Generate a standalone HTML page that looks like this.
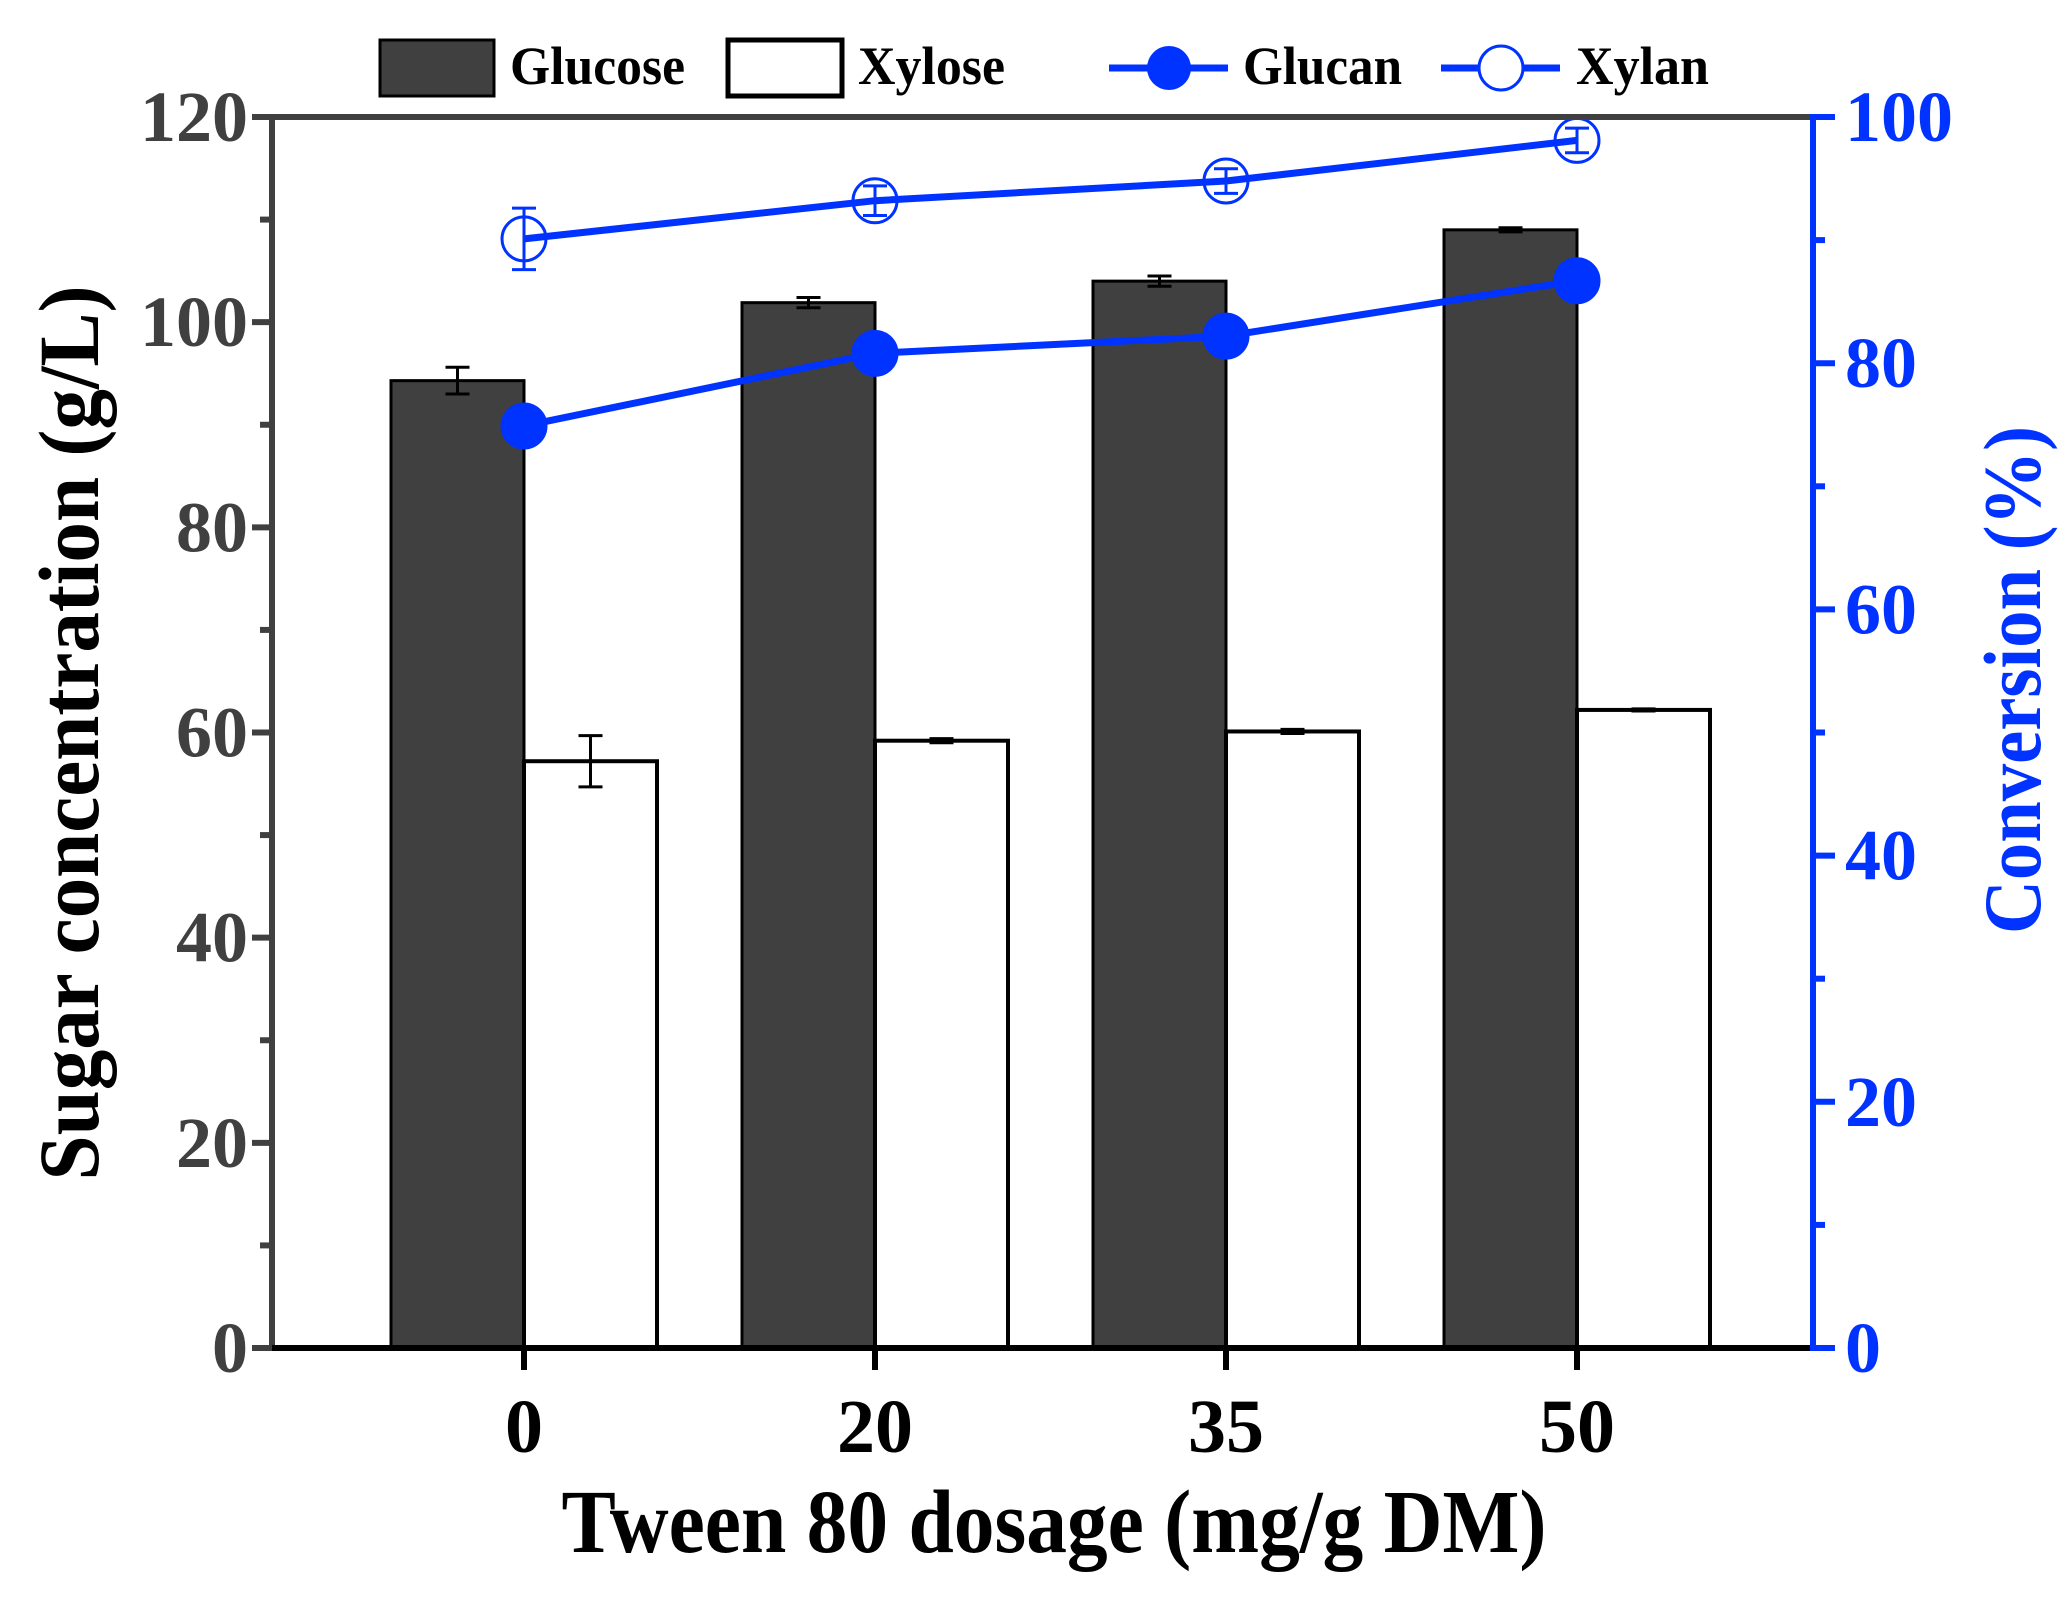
<!DOCTYPE html>
<html><head><meta charset="utf-8"><style>
html,body{margin:0;padding:0;background:#fff;}
svg{display:block;font-family:"Liberation Serif",serif;font-weight:bold;}
</style></head><body>
<svg id="chart" width="2072" height="1607" viewBox="0 0 2072 1607" xmlns="http://www.w3.org/2000/svg">
<g id="plot"></g>
</svg>
<script>
const categories = ["0","20","35","50"];
const glucose = [94.3, 101.9, 104.0, 109.0];
const glucoseErr = [1.3, 0.5, 0.5, 0.2];
const xylose = [57.2, 59.2, 60.1, 62.2];
const xyloseErr = [2.5, 0.2, 0.2, 0.1];
const glucan = [74.9, 80.8, 82.2, 86.7];
const glucanErr = [0.3, 0.3, 0.3, 0.3];
const xylan = [90.1, 93.2, 94.8, 98.1];
const xylanErr = [2.5, 1.2, 1.0, 1.0];
const leftTicks = [0,20,40,60,80,100,120];
const rightTicks = [0,20,40,60,80,100];

const L=272,R=1813,T=117,B=1348;
const NS="http://www.w3.org/2000/svg";
const g=document.getElementById('plot');
function yL(v){return B-(v/120)*(B-T);}
function yR(v){return B-(v/100)*(B-T);}
function xC(i){return 524+i*351;}
const BW=133;
function mk(tag,attrs,parent){const e=document.createElementNS(NS,tag);for(const k in attrs)e.setAttribute(k,attrs[k]);(parent||g).appendChild(e);return e;}

categories.forEach((c,i)=>{
  const x=xC(i);
  let r=mk('rect',{x:x-BW,y:yL(glucose[i]),width:BW,height:B-yL(glucose[i]),fill:'#404040',stroke:'#000','stroke-width':3});
  
  
  r=mk('rect',{x:x,y:yL(xylose[i]),width:BW,height:B-yL(xylose[i]),fill:'#fff',stroke:'#000','stroke-width':4});
  
  
  [[x-BW/2,glucose[i],glucoseErr[i]],[x+BW/2,xylose[i],xyloseErr[i]]].forEach(([cx,v,e])=>{
    const p=mk('path',{d:`M${cx},${yL(v+e)}V${yL(v-e)}M${cx-12},${yL(v+e)}H${cx+12}M${cx-12},${yL(v-e)}H${cx+12}`,stroke:'#000','stroke-width':3,fill:'none'});
    
    
  });
});

function series(vals,errs,filled,name){
  const pts=vals.map((v,i)=>xC(i)+','+yR(v)).join(' ');
  const pl=mk('polyline',{points:pts,fill:'none',stroke:'#0033ff','stroke-width':7});
  
  
  vals.forEach((v,i)=>{
    const cx=xC(i),cy=yR(v),e=errs[i];
    const eb=mk('path',{d:`M${cx},${yR(v+e)}V${yR(v-e)}M${cx-12},${yR(v+e)}H${cx+12}M${cx-12},${yR(v-e)}H${cx+12}`,stroke:'#0033ff','stroke-width':3,fill:'none'});
    
    
    const c=mk('circle',{cx:cx,cy:cy,r:22,fill:filled?'#0033ff':'none',stroke:'#0033ff','stroke-width':3});
    
    
  });
}
series(xylan,xylanErr,false,'xylan');
series(glucan,glucanErr,true,'glucan');

let a=mk('line',{x1:L,y1:T,x2:R,y2:T,stroke:'#404040','stroke-width':6});

a=mk('line',{x1:L,y1:T-3,x2:L,y2:B,stroke:'#404040','stroke-width':6});

a=mk('line',{x1:L,y1:B,x2:R,y2:B,stroke:'#000','stroke-width':6});

a=mk('line',{x1:R,y1:T-3,x2:R,y2:B+3,stroke:'#0033ff','stroke-width':6});


for(let v=0;v<=120;v+=10){
  const major=v%20===0;
  const t=mk('line',{x1:L-(major?20:12),y1:yL(v),x2:L,y2:yL(v),stroke:'#404040','stroke-width':6});
  
}
leftTicks.forEach(v=>{
  const t=mk('text',{x:L-24,y:yL(v)+24,'text-anchor':'end','font-size':72,fill:'#404040'});
  t.textContent=v;
  
});
for(let v=0;v<=100;v+=10){
  const major=v%20===0;
  const t=mk('line',{x1:R,y1:yR(v),x2:R+(major?22:12),y2:yR(v),stroke:'#0033ff','stroke-width':6});
  
}
rightTicks.forEach(v=>{
  const t=mk('text',{x:R+32,y:yR(v)+24,'text-anchor':'start','font-size':72,fill:'#0033ff'});
  t.textContent=v;
  
});
categories.forEach((c,i)=>{
  const t=mk('line',{x1:xC(i),y1:B,x2:xC(i),y2:B+22,stroke:'#000','stroke-width':6});
  
  const l=mk('text',{x:xC(i),y:1452,'text-anchor':'middle','font-size':76,fill:'#000'});
  l.textContent=c;
  
});

let tt=mk('text',{x:1054,y:1552,'text-anchor':'middle','font-size':90,fill:'#000',textLength:985,lengthAdjust:'spacingAndGlyphs'});
tt.textContent='Tween 80 dosage (mg/g DM)';

tt=mk('text',{transform:'translate(98,733) rotate(-90)','text-anchor':'middle','font-size':86,fill:'#000',textLength:895,lengthAdjust:'spacingAndGlyphs'});
tt.textContent='Sugar concentration (g/L)';

tt=mk('text',{transform:'translate(2040,680) rotate(-90)','text-anchor':'middle','font-size':82,fill:'#0033ff',textLength:508,lengthAdjust:'spacingAndGlyphs'});
tt.textContent='Conversion (%)';


let e=mk('rect',{x:380,y:40,width:114,height:56,fill:'#404040',stroke:'#000','stroke-width':3});

e=mk('text',{x:510,y:84,'font-size':54,fill:'#000',textLength:175,lengthAdjust:'spacingAndGlyphs'});e.textContent='Glucose';

e=mk('rect',{x:728,y:40,width:114,height:56,fill:'#fff',stroke:'#000','stroke-width':5});

e=mk('text',{x:858,y:84,'font-size':54,fill:'#000',textLength:147,lengthAdjust:'spacingAndGlyphs'});e.textContent='Xylose';

e=mk('line',{x1:1109,y1:68,x2:1228,y2:68,stroke:'#0033ff','stroke-width':7});

e=mk('circle',{cx:1169,cy:68,r:22,fill:'#0033ff'});

e=mk('text',{x:1243,y:84,'font-size':54,fill:'#000',textLength:159,lengthAdjust:'spacingAndGlyphs'});e.textContent='Glucan';

e=mk('line',{x1:1441,y1:68,x2:1560,y2:68,stroke:'#0033ff','stroke-width':7});

e=mk('circle',{cx:1501,cy:68,r:22,fill:'#fff',stroke:'#0033ff','stroke-width':3});

e=mk('text',{x:1576,y:84,'font-size':54,fill:'#000',textLength:133,lengthAdjust:'spacingAndGlyphs'});e.textContent='Xylan';

</script>
</body></html>
